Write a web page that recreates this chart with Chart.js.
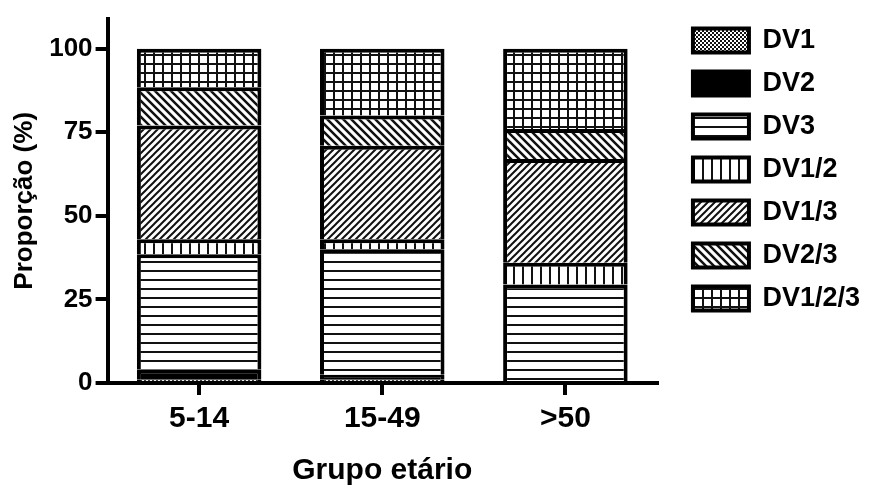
<!DOCTYPE html>
<html>
<head>
<meta charset="utf-8">
<script src="https://cdn.jsdelivr.net/npm/chart.js@4/dist/chart.umd.min.js"></script>
<style>
  html, body { margin: 0; padding: 0; background: #fff; }
  #wrap { width: 870px; height: 489px; }
</style>
</head>
<body>
<div id="wrap"><canvas id="myChart" width="870" height="489"></canvas></div>
<script>
// data block
const ageGroups = ['5-14', '15-49', '>50'];
const seriesNames = ['DV1', 'DV2', 'DV3', 'DV1/2', 'DV1/3', 'DV2/3', 'DV1/2/3'];
const dv1 = [1, 1, 0];
const dv2 = [3, 1.5, 0];
const dv3 = [34.5, 37.5, 29.5];
const dv12 = [4.5, 3, 6.5];
const dv13 = [34, 28, 31];
const dv23 = [11.5, 9, 9];
const dv123 = [11.5, 20, 24];
const yTicks = [0, 25, 50, 75, 100];

const canvas = document.getElementById('myChart');
const mainCtx = canvas.getContext('2d');

// hatch fills, GraphPad style
const makePattern = kind => {
    const s = { checker: 4, up: 7, down: 8, solid: 4 }[kind] || 9;
    const tile = document.createElement('canvas');
    tile.width = s;
    tile.height = s;
    const g = tile.getContext('2d');
    g.fillStyle = '#fff';
    g.fillRect(0, 0, s, s);
    g.fillStyle = '#111';
    g.strokeStyle = '#111';
    if (kind === 'solid') {
        g.fillStyle = '#000';
        g.fillRect(0, 0, s, s);
    } else if (kind === 'checker') {
        g.fillRect(0, 0, 2, 2);
        g.fillRect(2, 2, 2, 2);
    } else if (kind === 'hlines') {
        g.fillRect(0, 0, s, 2);
    } else if (kind === 'vlines') {
        g.fillRect(0, 0, 2, s);
    } else if (kind === 'grid') {
        g.fillRect(0, 0, s, 2);
        g.fillRect(0, 0, 2, s);
    } else if (kind === 'up') {
        g.lineWidth = 2;
        g.beginPath();
        g.moveTo(0, s); g.lineTo(s, 0);
        g.moveTo(-2, 2); g.lineTo(2, -2);
        g.moveTo(s - 2, s + 2); g.lineTo(s + 2, s - 2);
        g.stroke();
    } else if (kind === 'down') {
        g.lineWidth = 2.5;
        g.beginPath();
        g.moveTo(0, 0); g.lineTo(s, s);
        g.moveTo(-2, s - 2); g.lineTo(2, s + 2);
        g.moveTo(s - 2, -2); g.lineTo(s + 2, 2);
        g.stroke();
    }
    return mainCtx.createPattern(tile, 'repeat');
};

const seriesValues = [dv1, dv2, dv3, dv12, dv13, dv23, dv123];
const seriesFills = ['checker', 'solid', 'hlines', 'vlines', 'up', 'down', 'grid'];

const data = {
    labels: ageGroups,
    datasets: seriesNames.map((name, i) => ({
        label: name,
        data: seriesValues[i],
        backgroundColor: makePattern(seriesFills[i]),
        borderColor: '#000',
        borderWidth: 4,
        borderSkipped: 'start',
        categoryPercentage: 1,
        barPercentage: 0.68
    }))
};

Chart.defaults.font.family = "'Liberation Sans', Arial, sans-serif";
Chart.defaults.color = '#000';

const axisGrid = {
    display: true,
    drawOnChartArea: false,
    drawTicks: true,
    tickLength: 12,
    lineWidth: 4,
    color: '#000',
    offset: false
};

// config block
const config = {
    type: 'bar',
    data: data,
    options: {
        responsive: false,
        animation: false,
        layout: { padding: { top: 11, left: 9, bottom: 0, right: 0 } },
        scales: {
            x: {
                stacked: true,
                z: 1,
                grid: axisGrid,
                border: { display: true, color: '#000', width: 4 },
                ticks: { font: { size: 30, weight: 'bold' }, padding: 6 },
                title: {
                    display: true,
                    text: 'Grupo etário',
                    font: { size: 30, weight: 'bold' },
                    padding: { top: 10, bottom: 0 }
                }
            },
            y: {
                stacked: true,
                z: 1,
                min: 0,
                max: 109,
                afterBuildTicks: scale => {
                    scale.ticks = yTicks.map(v => ({ value: v }));
                },
                grid: axisGrid,
                border: { display: true, color: '#000', width: 4 },
                ticks: { font: { size: 26, weight: 'bold' }, padding: 3 },
                title: {
                    display: true,
                    text: 'Proporção (%)',
                    font: { size: 26, weight: 'bold' },
                    padding: { top: 0, bottom: 6 }
                }
            },
            // spacer between plot and legend
            gap: {
                position: 'right',
                display: true,
                grid: { display: false },
                border: { display: false },
                ticks: { display: false },
                afterFit: scale => { scale.width = 20; }
            }
        },
        plugins: {
            legend: {
                position: 'right',
                align: 'start',
                maxWidth: 240,
                labels: {
                    boxWidth: 56,
                    boxHeight: 24,
                    padding: 16,
                    font: { size: 27, weight: 'bold' },
                    color: '#000'
                }
            },
            tooltip: { enabled: false }
        }
    }
};

// init render block
const myChart = new Chart(canvas, config);
</script>
</body>
</html>
